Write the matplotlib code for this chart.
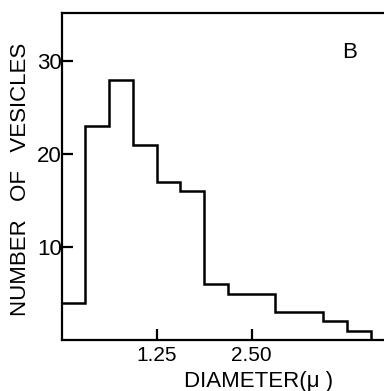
import matplotlib
matplotlib.use("Agg")
import matplotlib.pyplot as plt
import numpy as np

# bin edges (diameter, microns) and vesicle counts
bin_edges = [0, 0.3125, 0.625, 0.9375, 1.25, 1.5625, 1.875, 2.1875,
             2.5, 2.8125, 3.125, 3.4375, 3.75, 4.0625]
counts = [4, 23, 28, 21, 17, 16, 6, 5, 5, 3, 3, 2, 1]
x_ticks = [1.25, 2.50]
x_tick_labels = ["1.25", "2.50"]
y_ticks = [10, 20, 30]
y_tick_labels = ["10", "20", "30"]

plt.rcParams['font.family'] = ['Liberation Sans', 'DejaVu Sans']

fig = plt.figure(figsize=(3.84, 3.91), dpi=100)
ax = fig.add_axes([61.7 / 384, 51 / 391, 1 - 61.7 / 384, 327 / 391])

# step outline of the histogram, dropping to zero at the end
xs = np.repeat(bin_edges, 2)[1:-1]
ys = np.repeat(counts, 2)
xs = np.append(xs, bin_edges[-1])
ys = np.append(ys, 0)
ax.plot(xs, ys, c="black", lw=1.8, solid_joinstyle="miter")

ax.set_xlim(0, 4.24)
ax.set_ylim(0, 35.2)
ax.spines['right'].set_visible(False)
for s in ['left', 'bottom', 'top']:
    ax.spines[s].set_linewidth(1.6)

ax.set_xticks(x_ticks)
ax.set_xticklabels(x_tick_labels, fontsize=15)
ax.set_yticks(y_ticks)
ax.set_yticklabels(y_tick_labels, fontsize=16)
ax.tick_params(axis='both', direction='in', length=8, width=1.6)
ax.tick_params(axis='y', pad=0)
ax.tick_params(axis='x', pad=4)

ax.set_xlabel("DIAMETER(\u03bc )", fontsize=16)
ax.xaxis.set_label_coords((259 - 61.7) / (384 - 61.7), -(371 - 340) / 327)
ax.set_ylabel("NUMBER   OF   VESICLES", fontsize=16)
ax.yaxis.set_label_coords(-(61.7 - 31) / (384 - 61.7), (340 - 179) / 327)

ax.text((350 - 61.7) / (384 - 61.7), (340 - 53) / 327, "B",
        transform=ax.transAxes, fontsize=16, ha="center", va="center")

plt.savefig("out.png", dpi=100)
plt.close()
